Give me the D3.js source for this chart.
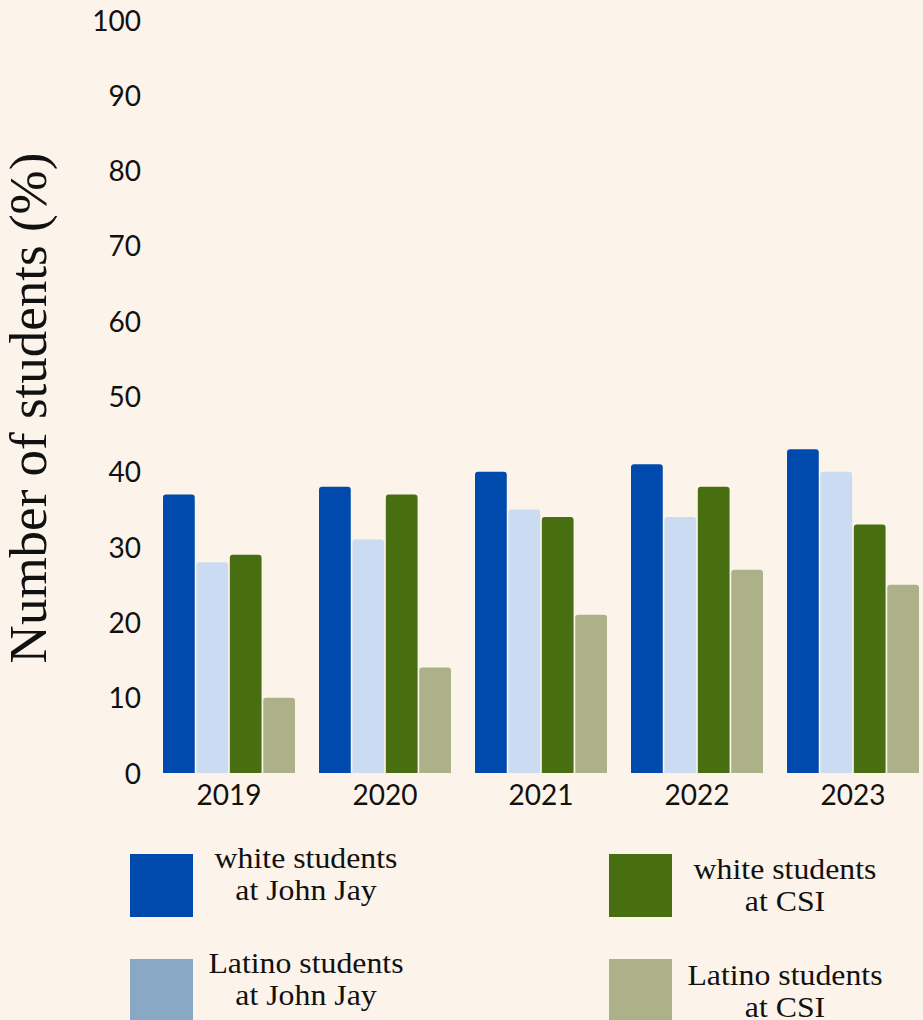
<!DOCTYPE html>
<html>
<head>
<meta charset="utf-8">
<script src="https://cdn.jsdelivr.net/npm/d3@7"></script>
<style>
  html, body { margin: 0; padding: 0; background: #fcf4ea; }
  svg { display: block; }
</style>
</head>
<body>
<div id="chart"></div>
<script>
// data
var years = ['2019', '2020', '2021', '2022', '2023'];
var seriesKeys = ['whiteJJ', 'latinoJJ', 'whiteCSI', 'latinoCSI'];
var whiteJJ   = [37, 38, 40, 41, 43];
var latinoJJ  = [28, 31, 35, 34, 40];
var whiteCSI  = [29, 37, 34, 38, 33];
var latinoCSI = [10, 14, 21, 27, 25];
var yTicks = [0, 10, 20, 30, 40, 50, 60, 70, 80, 90, 100];

var barColors = { whiteJJ: '#004aad', latinoJJ: '#cbdbf1', whiteCSI: '#486e12', latinoCSI: '#adb18a' };
// legend swatch for Latino/John Jay is a darker blue than the bars in the original
var legendItems = [
  { lines: ['white students', 'at John Jay'], color: '#004aad' },
  { lines: ['white students', 'at CSI'], color: '#486e12' },
  { lines: ['Latino students', 'at John Jay'], color: '#89a8c3' },
  { lines: ['Latino students', 'at CSI'], color: '#adb18a' }
];

var seriesVals = { whiteJJ: whiteJJ, latinoJJ: latinoJJ, whiteCSI: whiteCSI, latinoCSI: latinoCSI };
var rows = years.map(function(y, i) {
  return { year: y, values: seriesKeys.map(function(k) { return { key: k, value: seriesVals[k][i] }; }) };
});

var width = 923, height = 1020;
var svg = d3.select('#chart').append('svg').attr('width', width).attr('height', height);
svg.append('rect').attr('width', width).attr('height', height).attr('fill', '#fcf4ea');

var y = d3.scaleLinear().domain([0, 100]).range([773, 20]);
var x0 = d3.scaleBand().domain(years).range([151, 931]).paddingInner(0.154).paddingOuter(0.077);
var x1 = d3.scaleBand().domain(seriesKeys).range([0, x0.bandwidth()]).paddingInner(0.05);

var numFont = 'Lato, "Noto Sans", sans-serif';
var serif = '"Liberation Serif", "Times New Roman", serif';

// y axis (labels only)
var yAxis = svg.append('g').attr('transform', 'translate(141,0)')
  .call(d3.axisLeft(y).tickValues(yTicks).tickSize(0).tickPadding(0));
yAxis.select('.domain').remove();
yAxis.selectAll('text').attr('font-family', numFont).attr('font-size', 28).attr('fill', '#111').attr('dy', '0.36em');

// x axis labels
var xAxis = svg.append('g').attr('transform', 'translate(0,773)')
  .call(d3.axisBottom(x0).tickSize(0).tickPadding(15));
xAxis.select('.domain').remove();
xAxis.selectAll('text').attr('font-family', numFont).attr('font-size', 28).attr('fill', '#111').attr('dy', '0.6em');

// bars with rounded top corners
function topRounded(xp, yp, w, h, r) {
  r = Math.min(r, h);
  return 'M' + xp + ',' + (yp + h) +
    'V' + (yp + r) + 'Q' + xp + ',' + yp + ' ' + (xp + r) + ',' + yp +
    'H' + (xp + w - r) + 'Q' + (xp + w) + ',' + yp + ' ' + (xp + w) + ',' + (yp + r) +
    'V' + (yp + h) + 'Z';
}

var groups = svg.append('g').selectAll('g').data(rows).join('g')
  .attr('transform', function(d) { return 'translate(' + x0(d.year) + ',0)'; });

groups.selectAll('path').data(function(d) { return d.values; }).join('path')
  .attr('fill', function(d) { return barColors[d.key]; })
  .attr('d', function(d) {
    return topRounded(x1(d.key), y(d.value), x1.bandwidth(), y(0) - y(d.value), 3);
  });

// y axis title
svg.append('text')
  .attr('transform', 'translate(46,408) rotate(-90)')
  .attr('text-anchor', 'middle')
  .attr('font-family', serif).attr('font-size', 53).attr('fill', '#111')
  .text('Number of students (%)');

// legend
var legPos = [
  { sx: 130, sy: 854, tx: 306, ty: 868 },
  { sx: 609, sy: 854, tx: 785, ty: 879 },
  { sx: 130, sy: 959, tx: 306, ty: 973 },
  { sx: 609, sy: 959, tx: 785, ty: 985 }
];
var legend = svg.append('g').selectAll('g').data(legendItems).join('g');
legend.append('rect')
  .attr('x', function(d, i) { return legPos[i].sx; })
  .attr('y', function(d, i) { return legPos[i].sy; })
  .attr('width', 63).attr('height', 63)
  .attr('fill', function(d) { return d.color; });
legend.each(function(d, i) {
  var p = legPos[i];
  var g = d3.select(this);
  d.lines.forEach(function(line, j) {
    g.append('text')
      .attr('transform', 'translate(' + p.tx + ',' + (p.ty + j * 32) + ') scale(1.06,1)')
      .attr('text-anchor', 'middle')
      .attr('font-family', serif).attr('font-size', 30).attr('fill', '#111')
      .text(line);
  });
});
</script>
</body>
</html>
